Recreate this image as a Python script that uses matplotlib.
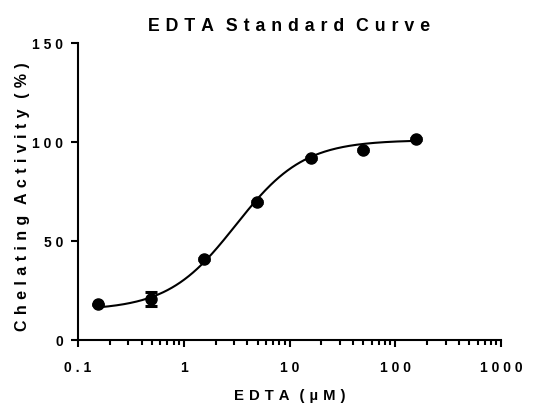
import numpy as np
import matplotlib.pyplot as plt
from matplotlib.ticker import LogLocator, NullFormatter

plt.rcParams['font.family'] = ['Liberation Sans', 'DejaVu Sans']
plt.rcParams['font.weight'] = 'bold'

# EDTA concentration (uM) and chelating activity (%)
conc = [0.156, 0.49, 1.56, 4.95, 15.8, 50.0, 158.0]
activity = [18.0, 20.7, 41.1, 69.8, 91.8, 96.0, 101.5]
sem = [0.4, 3.6, 0.5, 0.4, 0.4, 0.5, 0.4]

# four parameter logistic fit (bottom, top, EC50, hill slope)
bottom, top, ec50, hill = 15.0, 101.0, 3.1, 1.35

x_ticks = [0.1, 1, 10, 100, 1000]
x_labels = ['0 . 1', '1', '1 0', '1 0 0', '1 0 0 0']
y_ticks = [0, 50, 100, 150]
y_labels = ['0', '5 0', '1 0 0', '1 5 0']


def spaced(s, sep='\u2004'):
    # Prism-style letter spacing
    words = [sep.join(w) for w in s.split(' ')]
    return (sep * 2).join(words)


fig = plt.figure(figsize=(5.52, 4.13), dpi=100)
ax = fig.add_axes([78 / 552, 1 - 340 / 413, (501 - 78) / 552, (340 - 43) / 413])

xs = np.logspace(np.log10(conc[0]), np.log10(conc[-1]), 300)
ys = bottom + (top - bottom) / (1 + (ec50 / xs) ** hill)
ax.plot(xs, ys, color='black', lw=1.5, zorder=2)

ax.errorbar(conc, activity, yerr=sem, fmt='none', ecolor='black',
            elinewidth=2.2, capsize=4, capthick=2.2, zorder=3)
ax.plot(conc, activity, 'o', color='black', ms=8, zorder=4)

ax.set_xscale('log')
ax.set_xlim(0.1, 1000)
ax.set_ylim(0, 150)

ax.set_xticks(x_ticks, labels=x_labels)
ax.xaxis.set_minor_locator(LogLocator(base=10, subs=np.arange(2, 10)))
ax.xaxis.set_minor_formatter(NullFormatter())
ax.set_yticks(y_ticks, labels=y_labels)

for side in ['top', 'right']:
    ax.spines[side].set_visible(False)
for side in ['left', 'bottom']:
    ax.spines[side].set_linewidth(1.5)

ax.tick_params(axis='both', which='major', length=5, width=1.5,
               labelsize=10, direction='out')
ax.tick_params(axis='x', which='major', pad=10)
ax.tick_params(axis='y', which='major', pad=5.5)
ax.tick_params(axis='x', which='minor', length=3.5, width=1.5)
for lbl in ax.get_xticklabels() + ax.get_yticklabels():
    lbl.set_fontweight('bold')

ax.set_title(spaced('EDTA Standard Curve'), fontsize=12.75, fontweight='bold', pad=9)
ax.set_xlabel(spaced('EDTA (µM)'), fontsize=10.75, fontweight='bold', labelpad=10.5)
ax.set_ylabel(spaced('Chelating Activity (%)'), fontsize=11.5, fontweight='bold')
ax.yaxis.set_label_coords(-0.114, 0.482)

fig.savefig('out.png', dpi=100)
